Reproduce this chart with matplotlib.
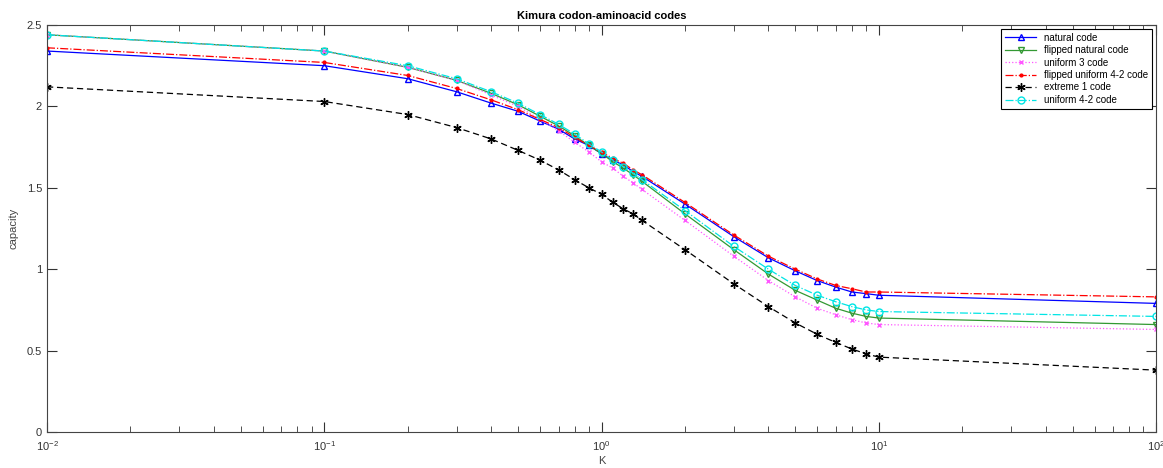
import numpy as np
import matplotlib
matplotlib.use("Agg")
import matplotlib.pyplot as plt

plt.rcParams['font.family'] = ['Liberation Sans', 'DejaVu Sans']

# valores de K (eje x logaritmico)
K = [0.01, 0.1, 0.2, 0.3, 0.4, 0.5, 0.6, 0.7, 0.8, 0.9, 1.0,
     1.1, 1.2, 1.3, 1.4, 2, 3, 4, 5, 6, 7, 8, 9, 10, 100]

natural = [2.34, 2.25, 2.17, 2.09, 2.02, 1.97, 1.91, 1.86, 1.80, 1.76, 1.71,
           1.67, 1.64, 1.60, 1.57, 1.40, 1.20, 1.07, 0.99, 0.93, 0.89, 0.86, 0.85, 0.84, 0.79]
flipped_natural = [2.44, 2.34, 2.24, 2.16, 2.08, 2.01, 1.94, 1.88, 1.82, 1.76, 1.71,
                   1.66, 1.62, 1.58, 1.54, 1.34, 1.12, 0.97, 0.87, 0.81, 0.76, 0.73, 0.71, 0.70, 0.66]
uniform3 = [2.44, 2.34, 2.24, 2.16, 2.07, 2.00, 1.92, 1.85, 1.78, 1.72, 1.66,
            1.62, 1.57, 1.53, 1.49, 1.30, 1.08, 0.93, 0.83, 0.76, 0.72, 0.69, 0.67, 0.66, 0.63]
flipped_uniform42 = [2.36, 2.27, 2.19, 2.11, 2.04, 1.98, 1.92, 1.87, 1.81, 1.76, 1.72,
                     1.68, 1.65, 1.61, 1.58, 1.41, 1.21, 1.08, 1.00, 0.94, 0.90, 0.88, 0.86, 0.86, 0.83]
extreme1 = [2.12, 2.03, 1.95, 1.87, 1.80, 1.73, 1.67, 1.61, 1.55, 1.50, 1.46,
            1.41, 1.37, 1.34, 1.30, 1.12, 0.91, 0.77, 0.67, 0.60, 0.55, 0.51, 0.48, 0.46, 0.38]
uniform42 = [2.44, 2.34, 2.25, 2.17, 2.09, 2.02, 1.95, 1.89, 1.83, 1.77, 1.72,
             1.67, 1.63, 1.59, 1.55, 1.36, 1.14, 1.00, 0.90, 0.84, 0.80, 0.77, 0.75, 0.74, 0.71]

fig = plt.figure(figsize=(11.63, 4.68), dpi=100)
ax = fig.add_axes([0.0404, 0.0769, 0.9536, 0.8697])

ax.plot(K, natural, color='#0000ff', linestyle='-', marker='^', mfc='none',
        ms=5, lw=0.9, label='natural code')
ax.plot(K, flipped_natural, color='#339933', linestyle='-', marker='v', mfc='none',
        ms=5, lw=0.9, label='flipped natural code')
ax.plot(K, uniform3, color='#ff55ff', linestyle=':', marker='x',
        ms=3.5, lw=0.9, label='uniform 3 code')
ax.plot(K, flipped_uniform42, color='#ff0000', linestyle='-.', marker='.',
        ms=4, lw=0.9, label='flipped uniform 4-2 code')
ax.plot(K, extreme1, color='black', linestyle='--', marker=(6, 2, 0),
        ms=6, mew=1, lw=0.9, label='extreme 1 code', dashes=(5, 3))
ax.plot(K, uniform42, color='#00e5e5', linestyle='-.', marker='o', mfc='none',
        ms=5, lw=0.9, label='uniform 4-2 code')

ax.set_xscale('log')
ax.set_xlim(0.01, 100)
ax.set_ylim(0, 2.5)
ax.set_yticks([0, 0.5, 1, 1.5, 2, 2.5])
ax.set_yticklabels(['0', '0.5', '1', '1.5', '2', '2.5'])

ax.tick_params(which='both', direction='in', top=True, right=True,
               labelsize=8, colors='#333333')
ax.tick_params(which='major', length=7.5)
ax.tick_params(which='minor', length=4.5)
ax.tick_params(axis='x', pad=5)
for s in ax.spines.values():
    s.set_color('#444444')

ax.set_xlabel('K', fontsize=8, color='#444444', labelpad=2)
ax.set_ylabel('capacity', fontsize=8, color='#444444', labelpad=6)
ax.set_title('Kimura codon-aminoacid codes', fontsize=8, fontweight='bold', pad=4)

leg = ax.legend(loc='upper right', fontsize=7, fancybox=False, framealpha=1,
                edgecolor='black', borderaxespad=0.4, handlelength=3.2,
                labelspacing=0.25, borderpad=0.4)
leg.get_frame().set_linewidth(0.8)

fig.savefig('out.png', dpi=100)
